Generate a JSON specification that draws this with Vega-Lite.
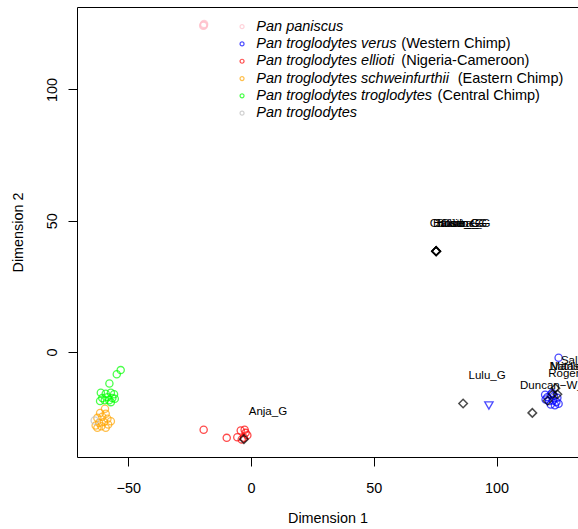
{
  "$schema": "https://vega.github.io/schema/vega-lite/v6.json",
  "width": 501,
  "height": 450,
  "autosize": "none",
  "padding": {"left": 77, "top": 7, "right": 0, "bottom": 72},
  "background": "white",
  "config": {
    "view": {"stroke": null},
    "font": "Liberation Sans",
    "style": {"guide-title": {"fontWeight": "normal"}},
    "axis": {
      "domainColor": "black", "tickColor": "black", "labelColor": "black", "titleColor": "black",
      "labelFont": "Liberation Sans", "titleFont": "Liberation Sans",
      "labelFontSize": 14.4, "titleFontSize": 14.4, "titleFontWeight": 400,
      "grid": false, "tickSize": 9, "domainWidth": 1, "tickWidth": 1,
      "labelFlush": false, "labelOverlap": false
    }
  },
  "data": {
    "values": [
      {"x": -19.3, "y": 124.6, "sp": "pp"},
      {"x": -19.1, "y": 124.9, "sp": "pp"},
      {"x": -19.5, "y": 124.3, "sp": "pp"},
      {"x": -19.2, "y": 124.4, "sp": "pp"},
      {"x": 125.3, "y": -2.2, "sp": "v"},
      {"x": 120.7, "y": -17.2, "sp": "v"},
      {"x": 122.1, "y": -16.2, "sp": "v"},
      {"x": 123.4, "y": -16.8, "sp": "v"},
      {"x": 124.8, "y": -17.4, "sp": "v"},
      {"x": 121.4, "y": -18.7, "sp": "v"},
      {"x": 123.0, "y": -18.5, "sp": "v"},
      {"x": 124.4, "y": -19.0, "sp": "v"},
      {"x": 125.3, "y": -19.7, "sp": "v"},
      {"x": 122.1, "y": -20.0, "sp": "v"},
      {"x": 123.8, "y": -20.3, "sp": "v"},
      {"x": 120.0, "y": -18.1, "sp": "v"},
      {"x": 122.7, "y": -15.5, "sp": "v"},
      {"x": 119.8, "y": -16.3, "sp": "v"},
      {"x": -19.3, "y": -29.6, "sp": "e"},
      {"x": -9.9, "y": -32.7, "sp": "e"},
      {"x": -5.6, "y": -32.5, "sp": "e"},
      {"x": -4.2, "y": -29.9, "sp": "e"},
      {"x": -2.2, "y": -30.8, "sp": "e"},
      {"x": -2.9, "y": -32.7, "sp": "e"},
      {"x": -3.8, "y": -33.3, "sp": "e"},
      {"x": -1.5, "y": -31.7, "sp": "e"},
      {"x": -2.6, "y": -29.6, "sp": "e"},
      {"x": -59.5, "y": -21.6, "sp": "s"},
      {"x": -61.5, "y": -23.2, "sp": "s"},
      {"x": -59.2, "y": -23.5, "sp": "s"},
      {"x": -62.6, "y": -25.1, "sp": "s"},
      {"x": -60.6, "y": -24.7, "sp": "s"},
      {"x": -58.5, "y": -25.4, "sp": "s"},
      {"x": -57.1, "y": -26.4, "sp": "s"},
      {"x": -61.9, "y": -27.0, "sp": "s"},
      {"x": -59.9, "y": -26.7, "sp": "s"},
      {"x": -58.2, "y": -27.6, "sp": "s"},
      {"x": -62.6, "y": -28.9, "sp": "s"},
      {"x": -61.0, "y": -28.3, "sp": "s"},
      {"x": -59.2, "y": -28.9, "sp": "s"},
      {"x": -63.3, "y": -28.0, "sp": "s"},
      {"x": -53.1, "y": -6.9, "sp": "t"},
      {"x": -54.7, "y": -8.5, "sp": "t"},
      {"x": -57.7, "y": -12.0, "sp": "t"},
      {"x": -61.2, "y": -15.5, "sp": "t"},
      {"x": -59.2, "y": -15.9, "sp": "t"},
      {"x": -57.1, "y": -15.5, "sp": "t"},
      {"x": -55.8, "y": -16.1, "sp": "t"},
      {"x": -60.6, "y": -17.5, "sp": "t"},
      {"x": -58.5, "y": -17.2, "sp": "t"},
      {"x": -56.5, "y": -17.5, "sp": "t"},
      {"x": -59.6, "y": -18.4, "sp": "t"},
      {"x": -57.8, "y": -18.4, "sp": "t"},
      {"x": -55.5, "y": -17.8, "sp": "t"},
      {"x": -61.5, "y": -18.7, "sp": "t"},
      {"x": -57.1, "y": -19.1, "sp": "t"},
      {"x": -63.7, "y": -26.1, "sp": "u"},
      {"x": 75.4, "y": 38.4, "sp": "G", "label": "Christine_G"},
      {"x": 75.4, "y": 38.4, "sp": "G", "label": "Bakuba_G"},
      {"x": 75.4, "y": 38.4, "sp": "G", "label": "Bosco_G"},
      {"x": 75.4, "y": 38.4, "sp": "G", "label": "Julie_G"},
      {"x": 75.4, "y": 38.4, "sp": "G", "label": "Clint_G"},
      {"x": 86.4, "y": -19.6, "sp": "G", "label": "Lulu_G"},
      {"x": 114.6, "y": -23.2, "sp": "G", "label": "Duncan−W_G"},
      {"x": -2.9, "y": -33.2, "sp": "G", "label": "Anja_G"},
      {"x": 124.0, "y": -13.8, "sp": "G", "label": "Salli_G"},
      {"x": 122.9, "y": -16.1, "sp": "G", "label": "Marlies_G"},
      {"x": 124.8, "y": -16.1, "sp": "G", "label": "Natascha_G"},
      {"x": 120.8, "y": -18.6, "sp": "G", "label": "Roger_G"},
      {"x": 96.9, "y": -20.4, "sp": "tri"}
    ]
  },
  "encoding": {
    "x": {
      "field": "x", "type": "quantitative",
      "scale": {"domain": [-70.9, 133.2], "nice": false, "zero": false},
      "axis": null
    },
    "y": {
      "field": "y", "type": "quantitative",
      "scale": {"domain": [-40.0, 131.4], "nice": false, "zero": false},
      "axis": {"orient": "left", "values": [0, 50, 100], "title": "Dimension 2", "titleFontWeight": 400, "labelAngle": 270, "labelAlign": "center", "labelBaseline": "bottom", "labelPadding": 9, "titlePadding": 19}
    }
  },
  "layer": [
    {
      "transform": [{"filter": "datum.sp != 'G' && datum.sp != 'tri'"}],
      "mark": {"type": "point", "filled": false, "size": 52, "strokeWidth": 1.3},
      "encoding": {
        "x": {
          "field": "x", "type": "quantitative",
          "scale": {"domain": [-70.9, 133.2], "nice": false, "zero": false},
          "axis": {"orient": "bottom", "values": [-50, 0, 50, 100], "title": "Dimension 1", "titleFontWeight": 400, "labelPadding": 15, "titlePadding": 16.6}
        },
        "stroke": {
          "field": "sp", "type": "nominal",
          "scale": {"domain": ["pp", "v", "e", "s", "t", "u"], "range": ["#FFC0CB", "#0000FF", "#FF0000", "#FFA500", "#00FF00", "#BEBEBE"]},
          "legend": {
            "orient": "none", "legendX": 157.8, "legendY": 12.4, "title": null, "padding": 0,
            "symbolType": "circle", "symbolSize": 16, "symbolStrokeWidth": 1.2,
            "labelFont": "Liberation Sans", "labelFontSize": 14.5, "labelFontStyle": "italic", "labelColor": "black",
            "labelOffset": 7, "rowPadding": 2.3, "labelLimit": 500,
            "labelExpr": "datum.value == 'pp' ? 'Pan paniscus' : datum.value == 'v' ? 'Pan troglodytes verus' : datum.value == 'e' ? 'Pan troglodytes ellioti' : datum.value == 's' ? 'Pan troglodytes schweinfurthii' : datum.value == 't' ? 'Pan troglodytes troglodytes' : 'Pan troglodytes'"
          }
        },
        "shape": {
          "field": "sp", "type": "nominal",
          "scale": {"domain": ["pp", "v", "e", "s", "t", "u", "zz"], "range": ["circle", "circle", "circle", "circle", "circle", "circle", "circle"]},
          "legend": {
            "orient": "none", "legendX": 157.8, "legendY": 12.4, "title": null, "padding": 0,
            "symbolSize": 16, "symbolStrokeWidth": 1.2, "symbolOpacity": 0,
            "labelFont": "Liberation Sans", "labelFontSize": 14.5, "labelFontStyle": "normal", "labelColor": "black",
            "labelOffset": 7, "rowPadding": 2.3, "labelLimit": 500,
            "labelExpr": "datum.value == 'v' ? '\u200b' + pad('', 36, '\u00a0', 'left') + '(Western Chimp)' : datum.value == 'e' ? '\u200b' + pad('', 36, '\u00a0', 'left') + '(Nigeria-Cameroon)' : datum.value == 's' ? '\u200b' + pad('', 50, '\u00a0', 'left') + '(Eastern Chimp)' : datum.value == 't' ? '\u200b' + pad('', 45, '\u00a0', 'left') + '(Central Chimp)' : ''"
          }
        }
      }
    },
    {
      "transform": [{"filter": "datum.sp == 'G'"}],
      "mark": {"type": "point", "shape": "diamond", "filled": false, "size": 72, "strokeWidth": 1.5, "color": "black"}
    },
    {
      "transform": [{"filter": "datum.sp == 'tri'"}],
      "mark": {"type": "point", "shape": "triangle-down", "filled": false, "size": 70, "strokeWidth": 1.3, "color": "#0000FF"}
    },
    {
      "transform": [{"filter": "datum.sp == 'G'"}],
      "mark": {"type": "text", "font": "Liberation Sans", "fontSize": 11.5, "color": "black", "align": "center", "baseline": "middle", "dx": 24, "dy": -27},
      "encoding": {"text": {"field": "label"}}
    },
    {
      "transform": [{"filter": "datum.sp == 'tri'"}],
      "mark": {"type": "point", "opacity": 0},
      "encoding": {
        "x": {
          "field": "x", "type": "quantitative",
          "scale": {"domain": [-70.9, 133.2], "nice": false, "zero": false},
          "axis": {"orient": "top", "labels": false, "ticks": false, "title": null, "domain": true}
        }
      }
    }
  ]
}
